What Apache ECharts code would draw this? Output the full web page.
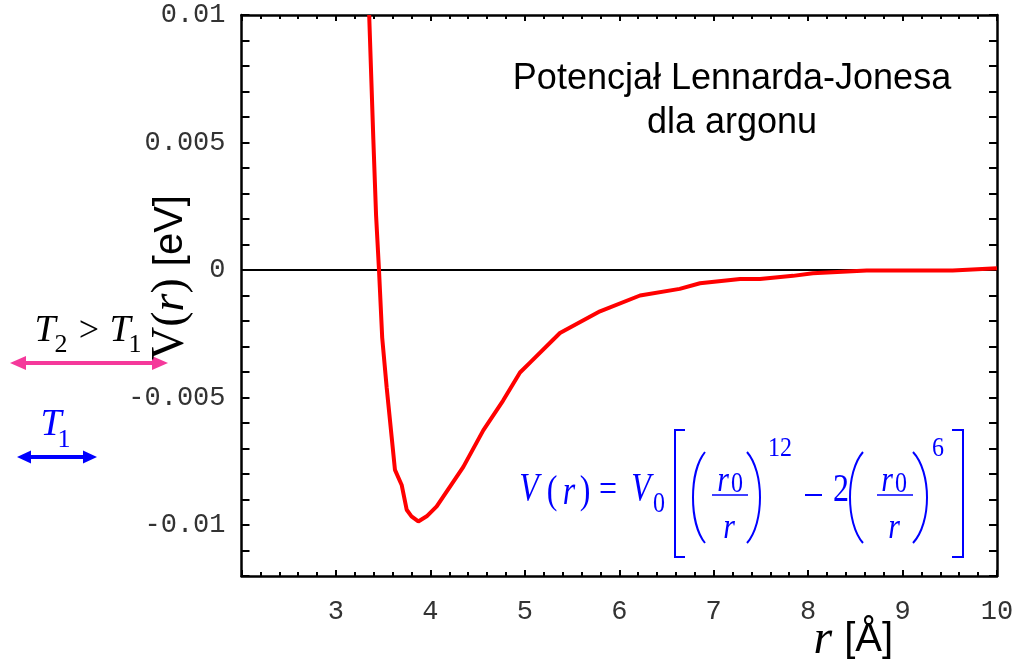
<!DOCTYPE html>
<html>
<head>
<meta charset="utf-8">
<script src="https://cdn.jsdelivr.net/npm/echarts@6/dist/echarts.min.js"></script>
<style>
  html, body { margin: 0; padding: 0; background: #fff; }
  #chart { width: 1012px; height: 668px; }
</style>
</head>
<body>
<div id="chart"></div>
<script>
// Lennard-Jones potential for argon: distance r [Å] and energy V(r) [eV]
const rValues = [3.352, 3.396, 3.425, 3.456, 3.49, 3.537, 3.59, 3.625, 3.696, 3.749, 3.80, 3.872,
                 3.961, 4.067, 4.349, 4.56, 4.77, 4.949, 5.055, 5.372, 5.796, 6.22, 6.64, 6.855,
                 7.28, 7.49, 7.84, 8.05, 8.62, 9.53, 10.0];
const vValues = [0.0100, 0.00512, 0.00214, 0.0, -0.00266, -0.0046, -0.00655, -0.00784, -0.00843, -0.0094, -0.00966, -0.00986,
                 -0.00966, -0.00927, -0.00772, -0.00629, -0.00512, -0.00402, -0.00363, -0.00247, -0.00162, -0.00100, -0.00074, -0.00052,
                 -0.00035, -0.00035, -0.00023, -0.00013, -0.00002, -0.00002, 0.00007];

const xTickLabels = ['3', '4', '5', '6', '7', '8', '9', '10'];
const yTickValues = [0.01, 0.005, 0, -0.005, -0.01];
const yTickLabels = ['0.01', '0.005', '0', '-0.005', '-0.01'];

const titleLines = ['Potencjał Lennarda-Jonesa', 'dla argonu'];

const BLUE = '#0000ff';
const PINK = '#f5399b';
const serif = '"Liberation Serif", "Times New Roman", serif';
const sans = '"Liberation Sans", Arial, sans-serif';
const mono = '"Liberation Mono", "Courier New", monospace';

function xLabel(v) {
  const s = String(Math.round(v));
  return xTickLabels.indexOf(s) >= 0 ? s : '';
}
function yLabel(v) {
  const i = yTickValues.findIndex(t => Math.abs(t - v) < 1e-9);
  return i >= 0 ? yTickLabels[i] : '';
}

const axisLineStyle = { color: '#000', width: 2.5 };
const tickLineStyle = { color: '#000', width: 2 };
const labelStyle = { fontFamily: mono, fontSize: 27, color: '#333' };

function xAxisDef(pos, withLabels) {
  return {
    type: 'value', position: pos, min: 2, max: 10, interval: 1,
    axisLine: { show: true, onZero: false, lineStyle: axisLineStyle },
    axisTick: { show: true, inside: true, length: 6, lineStyle: tickLineStyle },
    minorTick: { show: true, splitNumber: 5, length: 4, lineStyle: tickLineStyle },
    axisLabel: withLabels ? Object.assign({ show: true, margin: 22, formatter: xLabel }, labelStyle) : { show: false },
    splitLine: { show: false }, minorSplitLine: { show: false }
  };
}
function yAxisDef(pos, withLabels) {
  return {
    type: 'value', position: pos, min: -0.012, max: 0.01, interval: 0.001,
    axisLine: { show: true, onZero: false, lineStyle: axisLineStyle },
    axisTick: { show: true, inside: true, length: 8, lineStyle: tickLineStyle },
    axisLabel: withLabels ? Object.assign({ show: true, margin: 16, interval: 0, formatter: yLabel }, labelStyle) : { show: false },
    splitLine: { show: false }
  };
}

const xMain = xAxisDef('bottom', true);
xMain.name = '{r|r}{u|[Å]}';
xMain.nameLocation = 'middle';
xMain.nameGap = 40;
xMain.nameMoveOverlap = false;
xMain.nameTextStyle = {
  padding: [0, 0, 0, 468],
  rich: {
    r: { fontFamily: serif, fontStyle: 'italic', fontSize: 48, color: '#000', padding: [0, 12, 0, 0] },
    u: { fontFamily: sans, fontSize: 40, color: '#000' }
  }
};

const yMain = yAxisDef('left', true);
yMain.name = '{v|V(}{r|r}{p|)}{u|[eV]}';
yMain.nameLocation = 'middle';
yMain.nameRotate = 90;
yMain.nameGap = 48;
yMain.nameMoveOverlap = false;
yMain.nameTextStyle = {
  padding: [0, 0, 0, 36],
  rich: {
    v: { fontFamily: serif, fontSize: 46, color: '#000' },
    p: { fontFamily: serif, fontSize: 46, color: '#000', padding: [0, 12, 0, 0] },
    r: { fontFamily: serif, fontStyle: 'italic', fontSize: 46, color: '#000' },
    u: { fontFamily: sans, fontSize: 40, color: '#000' }
  }
};

// --- annotation helpers (formula and temperature arrows) ---
function txt(x, y, s, font, color, sy) {
  return {
    type: 'text', x: x, y: y, scaleY: sy || 1, silent: true,
    style: { x: 0, y: 0, text: s, font: font, fill: color, align: 'center', verticalAlign: 'middle' }
  };
}
function paren(x0, xb, y0, y1, color) {
  const xc = x0 + (xb - x0) * 4 / 3;
  const h = y1 - y0;
  return {
    type: 'bezierCurve', silent: true,
    shape: { x1: x0, y1: y0, x2: x0, y2: y1, cpx1: xc, cpy1: y0 + h * 0.22, cpx2: xc, cpy2: y1 - h * 0.22 },
    style: { stroke: color, lineWidth: 2, fill: null }
  };
}
function seg(x1, y1, x2, y2, color, w) {
  return { type: 'line', silent: true, shape: { x1: x1, y1: y1, x2: x2, y2: y2 }, style: { stroke: color, lineWidth: w } };
}
function poly(points, color, w) {
  return { type: 'polyline', silent: true, shape: { points: points }, style: { stroke: color, lineWidth: w, fill: null } };
}
function tri(points, color) {
  return { type: 'polygon', silent: true, shape: { points: points }, style: { fill: color } };
}
function doubleArrow(xl, xr, y, head, half, color, w) {
  return [
    seg(xl + head - 2, y, xr - head + 2, y, color, w),
    tri([[xl, y], [xl + head, y - half], [xl + head, y + half]], color),
    tri([[xr, y], [xr - head, y - half], [xr - head, y + half]], color)
  ];
}

const fi = 'italic 32px ' + serif;
const fu = '32px ' + serif;
const fs = '24px ' + serif;
const fn = 'italic 30px ' + serif;
const SY = 1.22;

const formula = [
  txt(529, 490, 'V', fi, BLUE, SY),
  txt(552, 493, '(', fu, BLUE, SY),
  txt(569, 494, 'r', fi, BLUE, SY),
  txt(585, 493, ')', fu, BLUE, SY),
  txt(608, 492, '=', fu, BLUE, SY),
  txt(641, 490, 'V', fi, BLUE, SY),
  txt(659, 504, '0', fs, BLUE, SY),
  poly([[685, 430], [675, 430], [675, 557], [685, 557]], BLUE, 2),
  paren(705, 693, 452, 543, BLUE),
  txt(723, 481, 'r', fn, BLUE, SY),
  txt(737, 484, '0', fs, BLUE, SY),
  seg(712, 495, 748, 495, BLUE, 1.5),
  txt(729, 528, 'r', fn, BLUE, SY),
  paren(747, 760, 452, 543, BLUE),
  txt(780, 449, '12', fs, BLUE, 1.1),
  seg(805, 495, 822, 495, BLUE, 2),
  txt(841, 491, '2', fu, BLUE, SY),
  paren(863, 850, 452, 543, BLUE),
  txt(887, 481, 'r', fn, BLUE, SY),
  txt(901, 484, '0', fs, BLUE, SY),
  seg(877, 495, 913, 495, BLUE, 1.5),
  txt(894, 528, 'r', fn, BLUE, SY),
  paren(913, 927, 452, 543, BLUE),
  txt(938, 449, '6', fs, BLUE, 1.1),
  poly([[952, 430], [963, 430], [963, 557], [952, 557]], BLUE, 2)
];

const tFont = 'italic 38px ' + serif;
const tSub = '26px ' + serif;
const arrows = [].concat(
  [
    txt(45, 331, 'T', tFont, '#000'),
    txt(61, 345, '2', tSub, '#000'),
    txt(89, 332, '>', '36px ' + serif, '#000'),
    txt(120, 331, 'T', tFont, '#000'),
    txt(135, 345, '1', tSub, '#000')
  ],
  doubleArrow(10, 168, 363, 16, 7, PINK, 4),
  [
    txt(51, 425, 'T', tFont, BLUE),
    txt(64, 440, '1', tSub, BLUE)
  ],
  doubleArrow(17, 97, 457, 14, 6.5, BLUE, 4)
);

const chart = echarts.init(document.getElementById('chart'), null, { renderer: 'canvas' });
chart.setOption({
  animation: false,
  backgroundColor: '#fff',
  title: {
    text: titleLines.join('\n'),
    left: 727, top: 52, textAlign: 'center',
    textStyle: { fontFamily: sans, fontSize: 36, fontWeight: 'normal', color: '#000', lineHeight: 44 }
  },
  grid: { left: 241.5, top: 15, right: 15, bottom: 92, outerBoundsMode: 'none', containLabel: false },
  xAxis: [xMain, xAxisDef('top', false)],
  yAxis: [yMain, yAxisDef('right', false)],
  series: [{
    type: 'line',
    name: 'V(r)',
    data: rValues.map((r, i) => [r, vValues[i]]),
    showSymbol: false,
    clip: true,
    z: 3,
    lineStyle: { color: '#ff0000', width: 4 },
    markLine: {
      z: 1, silent: true, symbol: ['none', 'none'], label: { show: false },
      lineStyle: { color: '#000', width: 2, type: 'solid' },
      data: [{ yAxis: 0 }]
    }
  }],
  graphic: formula.concat(arrows)
});
</script>
</body>
</html>
